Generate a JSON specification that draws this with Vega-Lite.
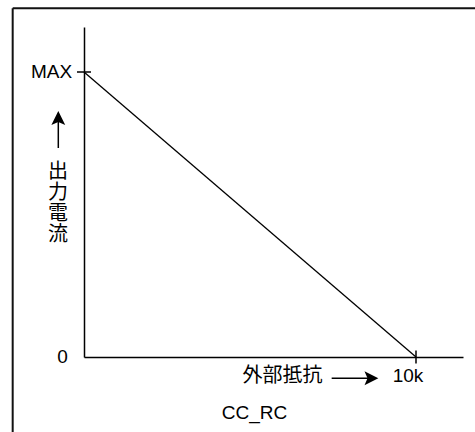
{
  "$schema": "https://vega.github.io/schema/vega-lite/v6.json",
  "width": 379,
  "height": 330,
  "autosize": {"type": "none"},
  "padding": {"left": 84, "top": 27, "right": 12, "bottom": 75},
  "background": "white",
  "config": {
    "view": {"stroke": null},
    "axis": {"domainColor": "#000", "domainWidth": 1.5, "ticks": false, "labels": false, "grid": false, "title": null}
  },
  "datasets": {
    "frame": [{"x": -2.148, "x2": 11.9, "y": 1.2235, "y2": -0.5}],
    "curve": [{"x": 0, "y": 1}, {"x": 10, "y": 0}],
    "ytick": [{"x": 0, "y": 1}],
    "xtick": [{"x": 10, "y": 0}],
    "latin": [
      {"x": -0.979, "y": 1.0, "label": "MAX"},
      {"x": -0.648, "y": 0.0, "label": "0"},
      {"x": 9.76, "y": -0.0667, "label": "10k"},
      {"x": 5.136, "y": -0.1965, "label": "CC_RC"}
    ],
    "cjk": [
      {"x": 5.979, "y": -0.0684, "label": "外部抵抗"},
      {"x": -0.783, "y": 0.649, "label": "出\n力\n電\n流"}
    ],
    "vshaft": [{"x": -0.774, "y": 0.7333}, {"x": -0.774, "y": 0.8326}],
    "vhead": [{"x": -0.774, "y": 0.8326}],
    "hshaft": [{"x": 7.46, "y": -0.0747}, {"x": 8.605, "y": -0.0747}],
    "hhead": [{"x": 8.605, "y": -0.0747}]
  },
  "encoding": {
    "x": {"field": "x", "type": "quantitative", "scale": {"domain": [0, 11.4157], "nice": false, "zero": false}, "axis": {"title": null}},
    "y": {"field": "y", "type": "quantitative", "scale": {"domain": [0, 1.1579], "nice": false, "zero": false}, "axis": {"title": null}}
  },
  "layer": [
    {
      "data": {"name": "frame"},
      "mark": {"type": "rule", "stroke": "#111", "strokeWidth": 2},
      "encoding": {"x2": {"field": "x2"}}
    },
    {
      "data": {"name": "frame"},
      "mark": {"type": "rule", "stroke": "#111", "strokeWidth": 2},
      "encoding": {"y2": {"field": "y2"}}
    },
    {
      "data": {"name": "curve"},
      "mark": {"type": "line", "color": "#000", "strokeWidth": 1.3}
    },
    {
      "data": {"name": "ytick"},
      "mark": {"type": "tick", "orient": "horizontal", "size": 14, "thickness": 1.5, "color": "#000", "opacity": 1}
    },
    {
      "data": {"name": "xtick"},
      "mark": {"type": "tick", "orient": "vertical", "size": 13, "thickness": 1.5, "color": "#000", "opacity": 1}
    },
    {
      "data": {"name": "vshaft"},
      "mark": {"type": "line", "color": "#000", "strokeWidth": 1.5}
    },
    {
      "data": {"name": "vhead"},
      "mark": {"type": "point", "shape": "M0,-1L0.8,0.6L0,0.25L-0.8,0.6Z", "size": 300, "filled": true, "color": "#000", "opacity": 1}
    },
    {
      "data": {"name": "hshaft"},
      "mark": {"type": "line", "color": "#000", "strokeWidth": 1.5}
    },
    {
      "data": {"name": "hhead"},
      "mark": {"type": "point", "shape": "M1,0L-0.6,0.8L-0.25,0L-0.6,-0.8Z", "size": 300, "filled": true, "color": "#000", "opacity": 1}
    },
    {
      "data": {"name": "latin"},
      "mark": {"type": "text", "font": "Liberation Sans", "fontSize": 19, "color": "#000", "align": "center", "baseline": "middle"},
      "encoding": {"text": {"field": "label"}}
    },
    {
      "data": {"name": "cjk"},
      "mark": {"type": "text", "font": "Liberation Sans, Noto Sans CJK JP", "fontSize": 20, "lineHeight": 21, "lineBreak": "\n", "color": "#000", "align": "center", "baseline": "middle"},
      "encoding": {"text": {"field": "label"}}
    }
  ]
}
